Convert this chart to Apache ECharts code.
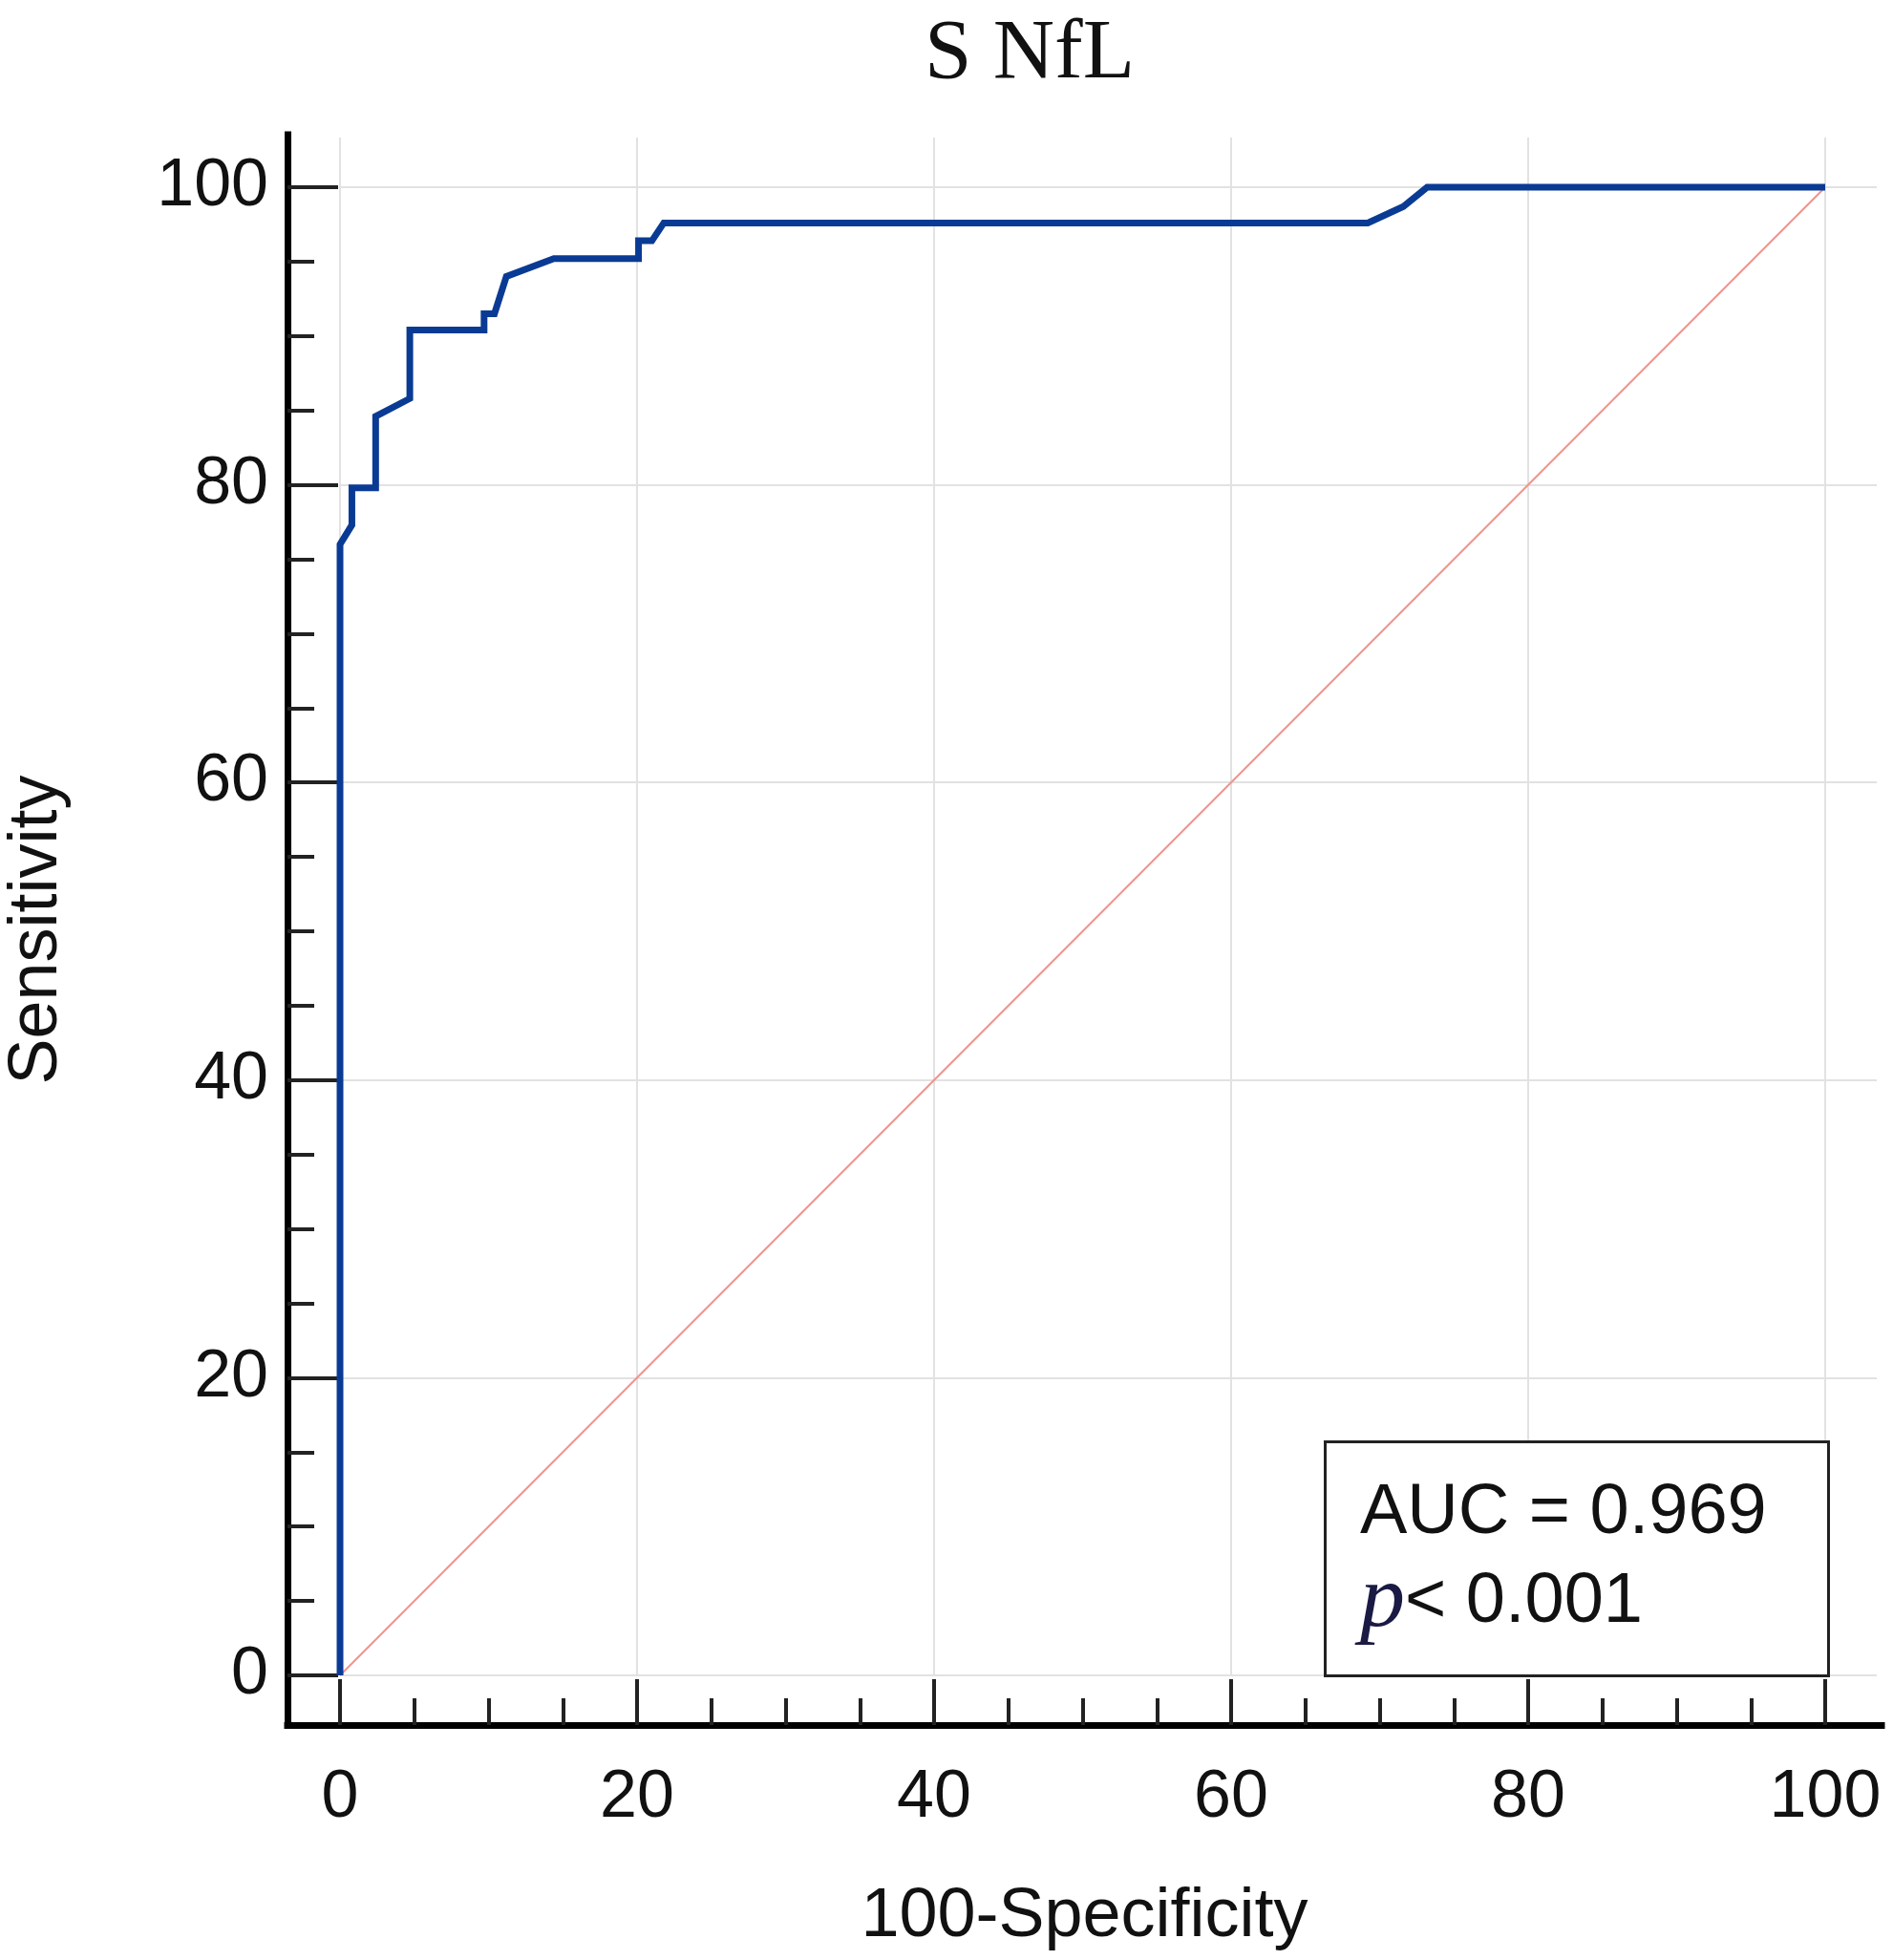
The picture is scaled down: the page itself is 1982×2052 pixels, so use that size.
<!DOCTYPE html>
<html>
<head>
<meta charset="utf-8">
<script src="https://cdn.jsdelivr.net/npm/echarts@6/dist/echarts.min.js"></script>
<style>
  html, body { margin: 0; padding: 0; background: #fff; }
  #chart { width: 1982px; height: 2052px; }
</style>
</head>
<body>
<div id="chart"></div>
<script>
// ROC curve points (100-Specificity, Sensitivity)
const rocX = [0, 0, 0.8, 0.8, 2.4, 2.4, 4.7, 4.7, 9.7, 9.7, 10.4, 11.2, 14.4, 20.1, 20.1, 21.0, 21.8, 69.2, 71.6, 73.2, 100];
const rocY = [0, 76.0, 77.3, 79.8, 79.8, 84.6, 85.8, 90.4, 90.4, 91.5, 91.5, 94.0, 95.2, 95.2, 96.4, 96.4, 97.6, 97.6, 98.7, 100, 100];
// reference (chance) diagonal
const diagX = [0, 100];
const diagY = [0, 100];
// axis ticks
const majorTicks = [0, 20, 40, 60, 80, 100];
const minorTicks = [5, 10, 15, 25, 30, 35, 45, 50, 55, 65, 70, 75, 85, 90, 95];
const titleText = 'S NfL';
const xName = '100-Specificity';
const yName = 'Sensitivity';
const aucText = 'AUC = 0.969';
const pText = '< 0.001';

const pairs = (xs, ys) => xs.map((x, i) => [x, ys[i]]);

// layout in pixels: where 0..100 sits, and where the axis frame lines sit
const plot = { left: 356, right: 1911, top: 196, bottom: 1754 };
const frame = { left: 301, right: 1970, top: 141, bottom: 1806 };
const gridTop = 144, gridRight = 1965;
const xs = (plot.right - plot.left) / 100;
const ys = (plot.bottom - plot.top) / 100;
const W = 1982, H = 2052;

const sans = 'Liberation Sans';
const tickColor = '#222';

const frameGrid = { left: frame.left, top: frame.top, right: W - frame.right, bottom: H - frame.bottom, containLabel: false, outerBoundsMode: 'none' };
const frameX = { min: -(plot.left - frame.left) / xs, max: (frame.right - plot.left) / xs };
const frameY = { min: -(frame.bottom - plot.bottom) / ys, max: (plot.bottom - frame.top) / ys };

const hiddenLine = { show: false, onZero: false };

const chart = echarts.init(document.getElementById('chart'));

const option = {
  animation: false,
  backgroundColor: '#fff',
  title: [
    {
      text: titleText,
      left: 963,
      top: 8,
      textStyle: { fontFamily: 'Liberation Serif', fontSize: 89, fontWeight: 'normal', color: '#111' }
    },
    {
      text: '{a|' + aucText + '}\n{p|p}{b|' + pText + '}',
      left: 1387,
      top: 1500,
      padding: [38, 65, 30, 37],
      borderWidth: 3,
      borderColor: '#222',
      backgroundColor: '#fff',
      textStyle: {
        fontWeight: 'normal',
        rich: {
          a: { fontFamily: sans, fontSize: 74, fontWeight: 'normal', lineHeight: 93, width: 424, color: '#111' },
          p: { fontFamily: 'Liberation Serif', fontStyle: 'italic', fontWeight: 'normal', fontSize: 94, lineHeight: 93, color: '#1a1a44' },
          b: { fontFamily: sans, fontSize: 74, fontWeight: 'normal', lineHeight: 93, color: '#111' }
        }
      }
    }
  ],
  grid: [
    // plot area: grid lines + series
    { left: plot.left, top: gridTop, right: W - gridRight, bottom: H - plot.bottom, containLabel: false, outerBoundsMode: 'none' },
    // frame: axis lines, major ticks, labels
    frameGrid,
    // frame: minor ticks
    frameGrid
  ],
  xAxis: [
    {
      gridIndex: 0, type: 'value', min: 0, max: (gridRight - plot.left) / xs, interval: 20,
      axisLine: hiddenLine, axisTick: { show: false }, axisLabel: { show: false },
      splitLine: { show: true, showMaxLine: false, lineStyle: { color: '#e2e2e2', width: 2 } }
    },
    {
      gridIndex: 1, type: 'value', min: frameX.min, max: frameX.max,
      axisLine: { show: true, onZero: false, lineStyle: { color: '#000', width: 7, cap: 'square' } },
      axisTick: { show: true, inside: true, length: 48, customValues: majorTicks, lineStyle: { color: tickColor, width: 4 } },
      axisLabel: { show: true, customValues: majorTicks, margin: 42, fontFamily: sans, fontSize: 70, color: '#111' },
      splitLine: { show: false },
      name: xName, nameLocation: 'middle', nameGap: 165,
      nameTextStyle: { fontFamily: sans, fontSize: 72, color: '#111' }
    },
    {
      gridIndex: 2, type: 'value', min: frameX.min, max: frameX.max,
      axisLine: hiddenLine, axisLabel: { show: false }, splitLine: { show: false },
      axisTick: { show: true, inside: true, length: 28, customValues: minorTicks, lineStyle: { color: tickColor, width: 4 } }
    }
  ],
  yAxis: [
    {
      gridIndex: 0, type: 'value', min: 0, max: (plot.bottom - gridTop) / ys, interval: 20,
      axisLine: hiddenLine, axisTick: { show: false }, axisLabel: { show: false },
      splitLine: { show: true, showMaxLine: false, lineStyle: { color: '#e2e2e2', width: 2 } }
    },
    {
      gridIndex: 1, type: 'value', min: frameY.min, max: frameY.max,
      axisLine: { show: true, onZero: false, lineStyle: { color: '#000', width: 7, cap: 'square' } },
      axisTick: { show: true, inside: true, length: 53, customValues: majorTicks, lineStyle: { color: tickColor, width: 4 } },
      axisLabel: { show: true, customValues: majorTicks, margin: 20, fontFamily: sans, fontSize: 70, color: '#111' },
      splitLine: { show: false },
      name: yName, nameLocation: 'middle', nameGap: 226,
      nameTextStyle: { fontFamily: sans, fontSize: 72, color: '#111' }
    },
    {
      gridIndex: 2, type: 'value', min: frameY.min, max: frameY.max,
      axisLine: hiddenLine, axisLabel: { show: false }, splitLine: { show: false },
      axisTick: { show: true, inside: true, length: 28, customValues: minorTicks, lineStyle: { color: tickColor, width: 4 } }
    }
  ],
  series: [
    {
      name: 'Reference',
      type: 'line',
      xAxisIndex: 0, yAxisIndex: 0,
      data: pairs(diagX, diagY),
      symbol: 'none',
      lineStyle: { color: '#f0948e', width: 2 },
      z: 2
    },
    {
      name: 'ROC',
      type: 'line',
      xAxisIndex: 0, yAxisIndex: 0,
      data: pairs(rocX, rocY),
      symbol: 'none',
      lineStyle: { color: '#0a3b94', width: 7, join: 'miter' },
      z: 3
    }
  ]
};

chart.setOption(option);
</script>
</body>
</html>
